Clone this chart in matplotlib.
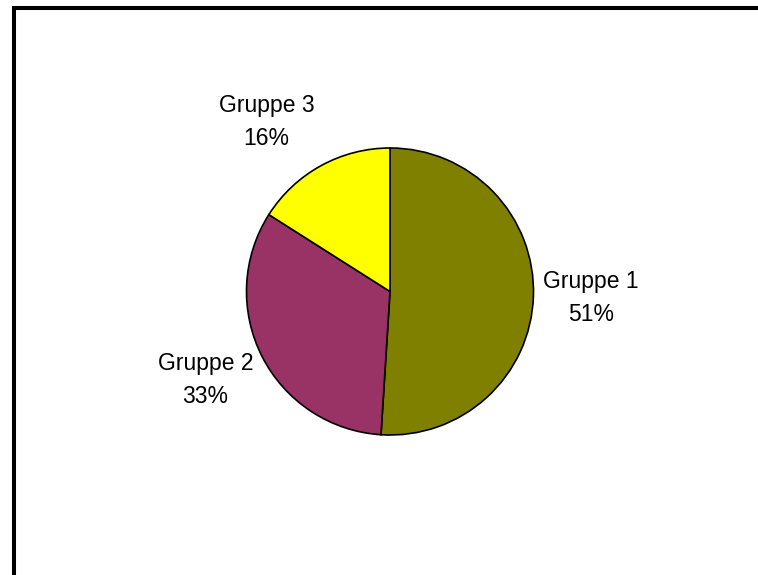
import numpy as np
import matplotlib.pyplot as plt
from matplotlib.lines import Line2D

plt.rcParams['font.family'] = ['Liberation Sans', 'DejaVu Sans']

groups = ["Gruppe 1", "Gruppe 2", "Gruppe 3"]
shares = [51, 33, 16]
colors = ["#808000", "#993366", "#FFFF00"]

# label centres in pie-radius units (layout only)
label_pos = [(1.40, -0.045), (-1.286, -0.617), (-0.861, 1.181)]

W, H = 758, 575
fig = plt.figure(figsize=(W / 100, H / 100), dpi=100)
fig.patch.set_facecolor("white")

cx, cy, r = 390, 291.5, 143.5
ax = fig.add_axes([(cx - r) / W, (H - cy - r) / H, 2 * r / W, 2 * r / H])

wedges, texts = ax.pie(shares, colors=colors, startangle=90, counterclock=False,
                       labels=[f"{g}\n{s}%" for g, s in zip(groups, shares)],
                       wedgeprops=dict(edgecolor="black", linewidth=1.2),
                       textprops=dict(fontsize=16.5, color="black"))
for t, (x, y) in zip(texts, label_pos):
    t.set_position((x, y))
    t.set_ha("center")
    t.set_va("center")
    t.set_multialignment("center")
    t.set_linespacing(1.52)
ax.set_xlim(-1, 1)
ax.set_ylim(-1, 1)
ax.axis("off")

# frame: only left and top edges visible
fig.add_artist(Line2D([13.5 / W, 13.5 / W, 1], [0, 1 - 8 / H, 1 - 8 / H],
                      transform=fig.transFigure, color="black", linewidth=2.9,
                      solid_joinstyle="miter"))

fig.savefig("out.png", dpi=100)
